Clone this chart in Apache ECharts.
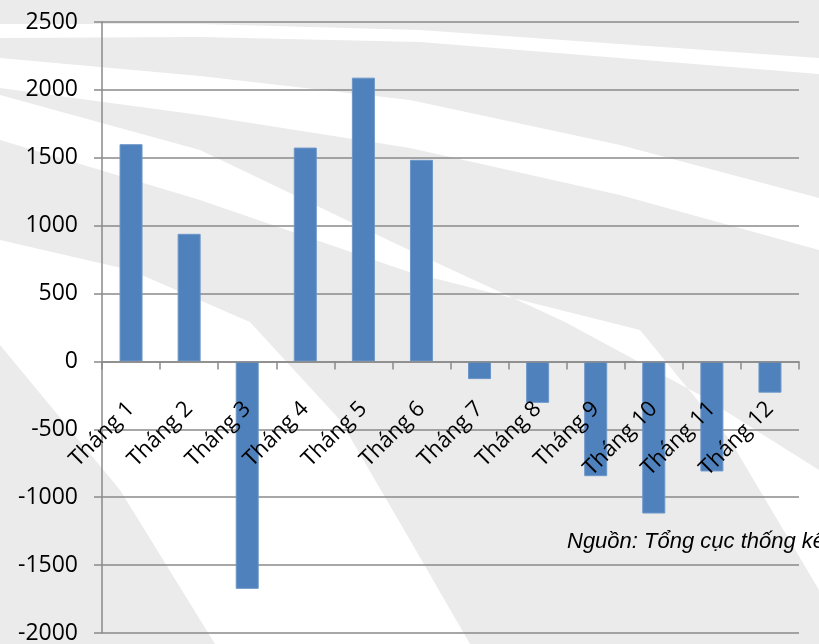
<!DOCTYPE html>
<html>
<head>
<meta charset="utf-8">
<script src="https://cdn.jsdelivr.net/npm/echarts@6/dist/echarts.min.js"></script>
<style>
  html, body { margin: 0; padding: 0; }
  #chart { width: 819px; height: 644px; }
</style>
</head>
<body>
<div id="chart"></div>
<script>
// du lieu theo thang
var months = ['Tháng 1', 'Tháng 2', 'Tháng 3', 'Tháng 4', 'Tháng 5', 'Tháng 6',
  'Tháng 7', 'Tháng 8', 'Tháng 9', 'Tháng 10', 'Tháng 11', 'Tháng 12'];
var values = [1600, 940, -1675, 1575, 2090, 1485, -130, -305, -845, -1120, -810, -230];
var yMin = -2000;
var yMax = 2500;
var sourceNote = 'Nguồn: Tổng cục thống kê';

var gridTop = 22;
var gridBottom = 11;
var plotHeight = 644 - gridTop - gridBottom;
// truc hoanh nam o muc 0
var zeroOffset = -plotHeight * (0 - yMin) / (yMax - yMin);

// soc trang nen (trang tri)
function band(points) {
  return {
    type: 'polygon',
    silent: true,
    shape: { points: points },
    style: { fill: '#ffffff' }
  };
}

var myChart = echarts.init(document.getElementById('chart'));
myChart.setOption({
  backgroundColor: '#ebebeb',
  animation: false,
  graphic: {
    elements: [
      {
        type: 'group',
        z: -10,
        children: [
          band([[0, 24], [200, 24], [420, 30], [819, 58], [819, 74], [420, 42], [200, 37], [0, 38]]),
          band([[0, 58], [200, 76], [410, 100], [620, 145], [819, 198], [819, 250], [620, 195], [410, 148], [200, 115], [0, 88]]),
          band([[0, 95], [200, 150], [409, 250], [565, 322], [700, 395], [819, 470], [819, 590], [730, 440], [640, 330], [409, 272], [200, 200], [0, 140]]),
          band([[0, 240], [130, 270], [250, 322], [340, 420], [410, 540], [470, 644], [215, 644], [120, 490], [0, 345]])
        ]
      },
      {
        type: 'text',
        left: 567,
        top: 531,
        z: 10,
        style: {
          text: sourceNote,
          font: 'italic 22px "Liberation Sans"',
          fill: '#000000'
        }
      }
    ]
  },
  grid: {
    left: 102,
    right: 20,
    top: gridTop,
    bottom: gridBottom,
    containLabel: false,
    outerBoundsMode: 'none'
  },
  xAxis: {
    type: 'category',
    data: months,
    position: 'bottom',
    offset: zeroOffset,
    z: 5,
    axisLine: { onZero: false, lineStyle: { color: '#8a8a8a', width: 1.5 } },
    axisTick: { show: true, length: 8, lineStyle: { color: '#8a8a8a', width: 1.5 } },
    axisLabel: {
      rotate: 45,
      margin: 44,
      interval: 0,
      color: '#000000',
      fontSize: 22,
      fontFamily: 'Open Sans'
    }
  },
  yAxis: {
    type: 'value',
    min: yMin,
    max: yMax,
    interval: 500,
    axisLine: { show: true, lineStyle: { color: '#8a8a8a', width: 1.5 } },
    axisTick: { show: true, length: 8, lineStyle: { color: '#8a8a8a', width: 1.5 } },
    splitLine: { lineStyle: { color: '#8a8a8a', width: 1.5 } },
    axisLabel: {
      margin: 24,
      color: '#000000',
      fontSize: 23,
      fontFamily: 'Open Sans',
      formatter: function (v) { return String(v); }
    }
  },
  series: [
    {
      type: 'bar',
      data: values,
      barWidth: 23,
      itemStyle: { color: '#4f81bd', borderColor: '#6b96c8', borderWidth: 1 }
    }
  ]
});
</script>
</body>
</html>
